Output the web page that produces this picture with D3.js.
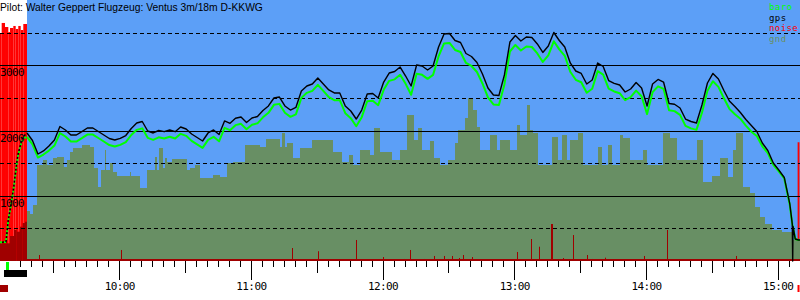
<!DOCTYPE html>
<html><head><meta charset="utf-8">
<script src="https://cdn.jsdelivr.net/npm/d3@7"></script>
<style>body{margin:0;background:#fff}svg{display:block}</style>
</head><body><svg id="c" width="800" height="300"></svg>
<script>
const title = "Pilot: Walter Geppert Flugzeug: Ventus 3m/18m D-KKWG";
const legendLabels = ["baro","gps","noise","gnd"];
const yLabelValues = [1000,2000,3000];
const gridSolid = [1000,2000,3000];
const gridDashed = [500,1500,2500,3500];
const hourTicks = ["10:00:00","11:00:00","12:00:00","13:00:00","14:00:00","15:00:00"];

const times = ["09:18:00","09:20:30","09:23:00","09:25:30","09:28:00","09:30:30","09:33:00","09:35:30","09:38:00","09:40:30",
"09:43:00","09:45:30","09:48:00","09:50:30","09:53:00","09:55:30","09:58:00","10:00:30","10:03:00","10:05:30",
"10:08:00","10:10:30","10:13:00","10:15:30","10:18:00","10:20:30","10:23:00","10:25:30","10:28:00","10:30:30",
"10:33:00","10:35:30","10:38:00","10:40:30","10:43:00","10:45:30","10:48:00","10:50:30","10:53:00","10:55:30",
"10:58:00","11:00:30","11:03:00","11:05:30","11:08:00","11:10:30","11:13:00","11:15:30","11:18:00","11:20:30",
"11:23:00","11:25:30","11:28:00","11:30:30","11:33:00","11:35:30","11:38:00","11:40:30","11:43:00","11:45:30",
"11:48:00","11:50:30","11:53:00","11:55:30","11:58:00","12:00:30","12:03:00","12:05:30","12:08:00","12:10:30",
"12:13:00","12:15:30","12:18:00","12:20:30","12:23:00","12:25:30","12:28:00","12:30:30","12:33:00","12:35:30",
"12:38:00","12:40:30","12:43:00","12:45:30","12:48:00","12:50:30","12:53:00","12:55:30","12:58:00","13:00:30",
"13:03:00","13:05:30","13:08:00","13:10:30","13:13:00","13:15:30","13:18:00","13:20:30","13:23:00","13:25:30",
"13:28:00","13:30:30","13:33:00","13:35:30","13:38:00","13:40:30","13:43:00","13:45:30","13:48:00","13:50:30",
"13:53:00","13:55:30","13:58:00","14:00:30","14:03:00","14:05:30","14:08:00","14:10:30","14:13:00","14:15:30",
"14:18:00","14:20:30","14:23:00","14:25:30","14:28:00","14:30:30","14:33:00","14:35:30","14:38:00","14:40:30",
"14:43:00","14:45:30","14:48:00","14:50:30","14:53:00","14:55:30","14:58:00","15:00:30","15:03:00","15:05:30","15:08:00"];

const gps = [1962,1847,1640,1686,1762,1854,2061,2008,1931,1931,
1982,2038,2038,1985,1931,1877,1854,1880,1923,2031,
2115,2138,1992,1962,2000,1982,2008,1982,2054,2023,
1946,1893,1839,1962,2008,1939,2146,2110,2187,2207,
2123,2192,2215,2307,2376,2498,2513,2376,2314,2353,
2605,2682,2713,2805,2713,2621,2575,2575,2376,2299,
2176,2314,2559,2567,2498,2743,2881,2904,2973,2835,
2682,3004,2988,2927,2988,3280,3479,3487,3379,3349,
3180,3134,3042,2866,2651,2544,2536,2851,3356,3456,
3372,3433,3425,3326,3196,3295,3502,3379,3280,3035,
2912,2874,2713,2774,3035,2981,2766,2723,2697,2590,
2636,2736,2651,2376,2713,2782,2743,2414,2402,2345,
2176,2138,2115,2391,2728,2874,2789,2613,2452,2368,
2276,2169,2077,1985,1808,1694,1502,1395,1280,880,337];

const baro = [1901,1786,1586,1632,1692,1769,1961,1908,1831,1831,
1882,1938,1938,1885,1831,1777,1754,1780,1823,1931,
2010,2033,1887,1857,1895,1877,1903,1877,1949,1918,
1841,1788,1734,1857,1903,1834,2041,2005,2082,2102,
2018,2087,2110,2202,2271,2393,2408,2271,2209,2248,
2500,2577,2608,2700,2608,2511,2465,2465,2266,2189,
2066,2204,2449,2457,2388,2623,2761,2784,2853,2715,
2547,2869,2853,2792,2853,3135,3334,3342,3234,3204,
3035,2989,2897,2721,2506,2399,2391,2706,3211,3311,
3227,3288,3280,3181,3051,3150,3367,3244,3145,2900,
2777,2739,2578,2639,2910,2856,2641,2598,2572,2465,
2511,2611,2526,2251,2588,2677,2638,2309,2297,2240,
2071,2033,2010,2271,2608,2754,2669,2493,2332,2248,
2181,2074,1982,1915,1758,1654,1472,1375,1265,860,337];

// ground elevation under the track (step profile)
const gndTimes = ["09:18:00","09:19:22","09:20:44","09:22:34","09:25:17","09:27:07","09:29:51","09:31:40","09:34:52","09:36:13",
"09:37:35","09:38:58","09:43:04","09:46:42","09:48:31","09:50:21","09:51:43","09:53:32","09:53:59","09:55:49",
"09:57:11","09:59:00","10:04:56","10:05:23","10:09:29","10:12:40","10:16:19","10:17:14","10:18:08","10:19:58",
"10:20:52","10:21:47","10:24:04","10:30:53","10:32:16","10:34:32","10:36:49","10:42:44","10:45:56","10:49:07",
"10:51:51","10:57:19","11:04:09","11:06:53","11:13:16","11:14:10","11:15:32","11:16:27","11:19:11","11:22:22",
"11:27:50","11:37:25","11:41:31","11:44:42","11:46:31","11:49:43","11:54:16","11:56:05","11:58:49","12:04:17",
"12:07:56","12:11:07","12:14:19","12:16:08","12:17:58","12:21:36","12:23:25","12:26:10","12:29:48","12:32:59",
"12:34:22","12:37:33","12:38:55","12:41:11","12:43:01","12:44:23","12:48:56","12:52:07","12:53:29","12:58:03",
"13:01:14","13:02:36","13:05:47","13:07:10","13:08:31","13:10:48","13:17:11","13:19:55","13:21:44","13:24:01",
"13:25:23","13:29:02","13:31:18","13:38:08","13:39:58","13:42:41","13:44:31","13:48:10","13:49:32","13:52:43",
"13:58:38","14:00:28","14:07:45","14:10:56","14:14:08","14:23:14","14:25:58","14:30:04","14:33:43","14:37:22",
"14:39:38","14:41:01","14:44:12","14:47:23","14:49:40","14:51:56","14:54:13","14:57:25","15:01:58","15:06:58"];
const gnd = [766,720,858,1471,1548,1471,1579,1594,1441,1548,
1671,1732,1778,1747,1425,1134,1395,1701,1395,1502,
1364,1303,1364,1303,1119,1395,1594,1395,1732,1425,
1579,1517,1563,1395,1425,1471,1272,1318,1287,1502,
1517,1778,1747,1870,1747,1962,1747,1808,1579,1732,
1854,1671,1517,1625,1471,1701,1625,2038,1671,1548,
1701,2238,1854,2038,1701,1839,1579,1471,1548,1808,
2008,2192,2498,2314,2054,1701,1931,1701,1854,1701,
2084,1931,2391,2008,1962,1471,1900,1548,1931,1548,
1854,1962,1471,1747,1471,1778,1471,1931,1885,1548,
1701,1471,1962,1885,1548,1854,1211,1303,1579,1287,
1701,1962,1134,1042,828,674,567,475,444,322];

const touchdownTimes = ["15:06:40","15:06:50","15:07:00","15:09:30"];
const touchdownGps = [560,0,530,322];
const touchdownBaro = [560,540,520,322];

const towTimes = ["09:05:42","09:08:26","09:09:29","09:10:16","09:11:02","09:11:46","09:12:32","09:13:18","09:14:02","09:14:49","09:15:35","09:16:19","09:17:05","09:18:00"];
const towGps  = [287,291,628,782,935,1088,1292,1502,1655,1752,1854,1905,1931,1962];
const towBaro = [287,291,620,770,920,1070,1270,1480,1630,1725,1825,1870,1890,1901];

const noiseHighStart = ["09:05:42","09:06:28","09:07:59","09:09:29","09:10:16","09:11:46","09:12:51","09:14:02","09:15:08","09:16:19","15:09:05"];
const noiseHighEnd   = ["09:06:28","09:07:59","09:09:29","09:10:16","09:11:46","09:12:51","09:14:02","09:15:08","09:16:19","09:18:00","15:09:55"];
const noiseHigh      = [3494,3648,3586,3510,3571,3602,3556,3602,3540,3632,1820];

const engineStart = ["09:05:42","09:10:16","09:12:05","09:13:18","09:14:49","09:16:02","09:17:05"];
const engineEnd   = ["09:10:16","09:12:05","09:13:18","09:14:49","09:16:02","09:17:05","09:18:00"];
const engineNoise = [271,383,475,449,526,582,602];

const noiseTimes = ["09:21:58","09:23:55","10:00:50","11:18:44","11:30:36","11:48:20","12:00:18","12:09:46","12:12:56","12:18:54",
"12:23:34","12:27:59","12:30:02","12:31:46","12:34:57","12:37:05","12:41:11","13:01:22","13:07:56","13:11:24",
"13:16:45","13:17:12","13:22:20","13:26:53","13:33:16","13:35:32","13:41:28","13:59:14","14:09:43","14:41:14","14:48:10"];
const noise = [31,92,169,199,150,322,61,31,169,31,
77,77,31,77,46,92,61,138,337,219,
567,567,46,398,92,31,51,77,475,77,31];

const eventKinds = ["engine","tow","takeoff","landing"];
const eventFrom  = ["09:05:42","09:07:31","09:08:26","15:09:02"];
const eventTo    = ["09:09:21","09:18:00","09:09:48","15:09:57"];

const BLUE = "#5c9ff7", GND = "#688f64", DARKRED = "#a00000", RED = "#ff0000", GREEN = "#00ff00";
const eventStyle = {
  engine:  {fill: DARKRED, y: 285, h: 7},
  tow:     {fill: "#000", y: 270, h: 7},
  takeoff: {fill: GREEN, y: 262, h: 8},
  landing: {fill: RED, y: 285, h: 7}
};

const parse = d3.timeParse("%H:%M:%S");
const svg = d3.select("#c");
const x = d3.scaleTime().domain([parse("09:05:42"), parse("15:10:10")]).range([0, 800]);
const y = d3.scaleLinear().domain([0, 4000]).range([261, 0]);
const xEnd = x.domain()[1];

const x0 = x(parse(times[0]));
svg.append("rect").attr("x", x0).attr("y", 0).attr("width", 800 - x0).attr("height", y(0)).attr("fill", BLUE);

svg.append("g").selectAll("rect").data(noiseHigh).join("rect")
  .attr("x", (d,i) => x(parse(noiseHighStart[i])))
  .attr("width", (d,i) => Math.max(1, x(parse(noiseHighEnd[i])) - x(parse(noiseHighStart[i]))))
  .attr("y", d => y(d)).attr("height", d => y(0) - y(d)).attr("fill", RED);

const gndData = gndTimes.map((t,i) => ({t: parse(t), v: gnd[i]}));
gndData.push({t: xEnd, v: gnd[gnd.length-1]});
svg.append("path").datum(gndData)
  .attr("d", d3.area().curve(d3.curveStepAfter).x(d => x(d.t)).y0(y(0)).y1(d => y(d.v)))
  .attr("fill", GND).attr("shape-rendering", "crispEdges");

svg.append("g").selectAll("rect").data(engineNoise).join("rect")
  .attr("x", (d,i) => x(parse(engineStart[i])))
  .attr("width", (d,i) => x(parse(engineEnd[i])) - x(parse(engineStart[i])))
  .attr("y", d => y(d)).attr("height", d => y(0) - y(d)).attr("fill", DARKRED);

svg.append("g").selectAll("rect").data(noise).join("rect")
  .attr("x", (d,i) => Math.floor(x(parse(noiseTimes[i]))))
  .attr("width", 1)
  .attr("y", d => y(d)).attr("height", d => y(0) - y(d)).attr("fill", DARKRED);
svg.append("line").attr("x1", x0).attr("x2", 800).attr("y1", 260).attr("y2", 260)
  .attr("stroke", DARKRED).attr("stroke-width", 2);

svg.append("g").selectAll("line").data(gridSolid).join("line")
  .attr("x1", 0).attr("x2", 800)
  .attr("y1", d => Math.round(y(d)) + 0.5).attr("y2", d => Math.round(y(d)) + 0.5)
  .attr("stroke", "#000").attr("stroke-width", 1);
svg.append("g").selectAll("line").data(gridDashed).join("line")
  .attr("x1", 0).attr("x2", 800)
  .attr("y1", d => Math.round(y(d)) + 0.5).attr("y2", d => Math.round(y(d)) + 0.5)
  .attr("stroke", "#000").attr("stroke-width", 1).attr("stroke-dasharray", "4,3");

const towB = towTimes.map((t,i) => ({t: parse(t), v: towBaro[i]}));
const towG = towTimes.map((t,i) => ({t: parse(t), v: towGps[i]}));
const line = d3.line().x(d => x(d.t)).y(d => y(d.v));
svg.append("path").datum(towB).attr("d", line).attr("fill", "none")
  .attr("stroke", GREEN).attr("stroke-width", 2).attr("stroke-dasharray", "2,2");
svg.append("path").datum(towG).attr("d", line).attr("fill", "none")
  .attr("stroke", "#000").attr("stroke-width", 1.5).attr("stroke-dasharray", "2,2").attr("stroke-dashoffset", 2);

const baroData = times.map((t,i) => ({t: parse(t), v: baro[i]}))
  .concat(touchdownTimes.map((t,i) => ({t: parse(t), v: touchdownBaro[i]})))
  .sort((a,b) => a.t - b.t);
const gpsData = times.map((t,i) => ({t: parse(t), v: gps[i]}))
  .concat(touchdownTimes.map((t,i) => ({t: parse(t), v: touchdownGps[i]})))
  .sort((a,b) => a.t - b.t);
baroData.push({t: xEnd, v: baroData[baroData.length-1].v});
gpsData.push({t: xEnd, v: gpsData[gpsData.length-1].v});
svg.append("path").datum(baroData).attr("d", line).attr("fill", "none")
  .attr("stroke", GREEN).attr("stroke-width", 2).attr("stroke-linejoin", "round");
svg.append("path").datum(gpsData).attr("d", line).attr("fill", "none")
  .attr("stroke", "#000").attr("stroke-width", 1.4).attr("stroke-linejoin", "round");

svg.append("g").selectAll("text").data(yLabelValues).join("text")
  .attr("x", 0).attr("y", d => Math.round(y(d)) + 11)
  .attr("font-family", "DejaVu Sans Mono").attr("font-size", 11).attr("letter-spacing", -0.6)
  .attr("fill", "#000").text(d => d);

const base = svg.append("g").attr("transform", "translate(0,261)");
const minor = d3.timeMinute.every(5).range(parse("09:15:00"), xEnd);
const half = minor.filter(d => d.getMinutes() === 30);
const hours = hourTicks.map(parse);
function ax(vals, size, labels) {
  const a = d3.axisBottom(x).tickValues(vals).tickSize(size).tickSizeOuter(0)
    .tickFormat(labels ? d3.timeFormat("%H:%M") : () => "");
  const g = base.append("g").call(a);
  g.select(".domain").remove();
  g.selectAll(".tick line").attr("stroke", "#000").attr("shape-rendering", "crispEdges");
  g.selectAll("text").attr("y", 29).attr("dy", 0)
    .attr("font-family", "DejaVu Sans Mono").attr("font-size", 11).attr("letter-spacing", -0.6).attr("fill", "#000");
}
ax(minor, 6, false);
ax(half, 12, false);
ax(hours, 19, true);

svg.append("g").selectAll("rect").data(eventKinds).join("rect")
  .attr("x", (d,i) => x(parse(eventFrom[i])))
  .attr("width", (d,i) => x(parse(eventTo[i])) - x(parse(eventFrom[i])))
  .attr("y", d => eventStyle[d].y).attr("height", d => eventStyle[d].h)
  .attr("fill", d => eventStyle[d].fill);

svg.append("text").attr("x", 0).attr("y", 11).attr("font-family", "Liberation Sans, Arial, sans-serif")
  .attr("font-size", 10.3).attr("fill", "#000").text(title);

const legendColors = [GREEN, "#000", RED, GND];
svg.append("g").selectAll("text").data(legendLabels).join("text")
  .attr("x", 769).attr("y", (d,i) => 10 + i*10.5)
  .attr("font-family", "DejaVu Sans Mono").attr("font-size", 9).attr("letter-spacing", 0.4)
  .attr("fill", (d,i) => legendColors[i]).text(d => d);
</script></body></html>
